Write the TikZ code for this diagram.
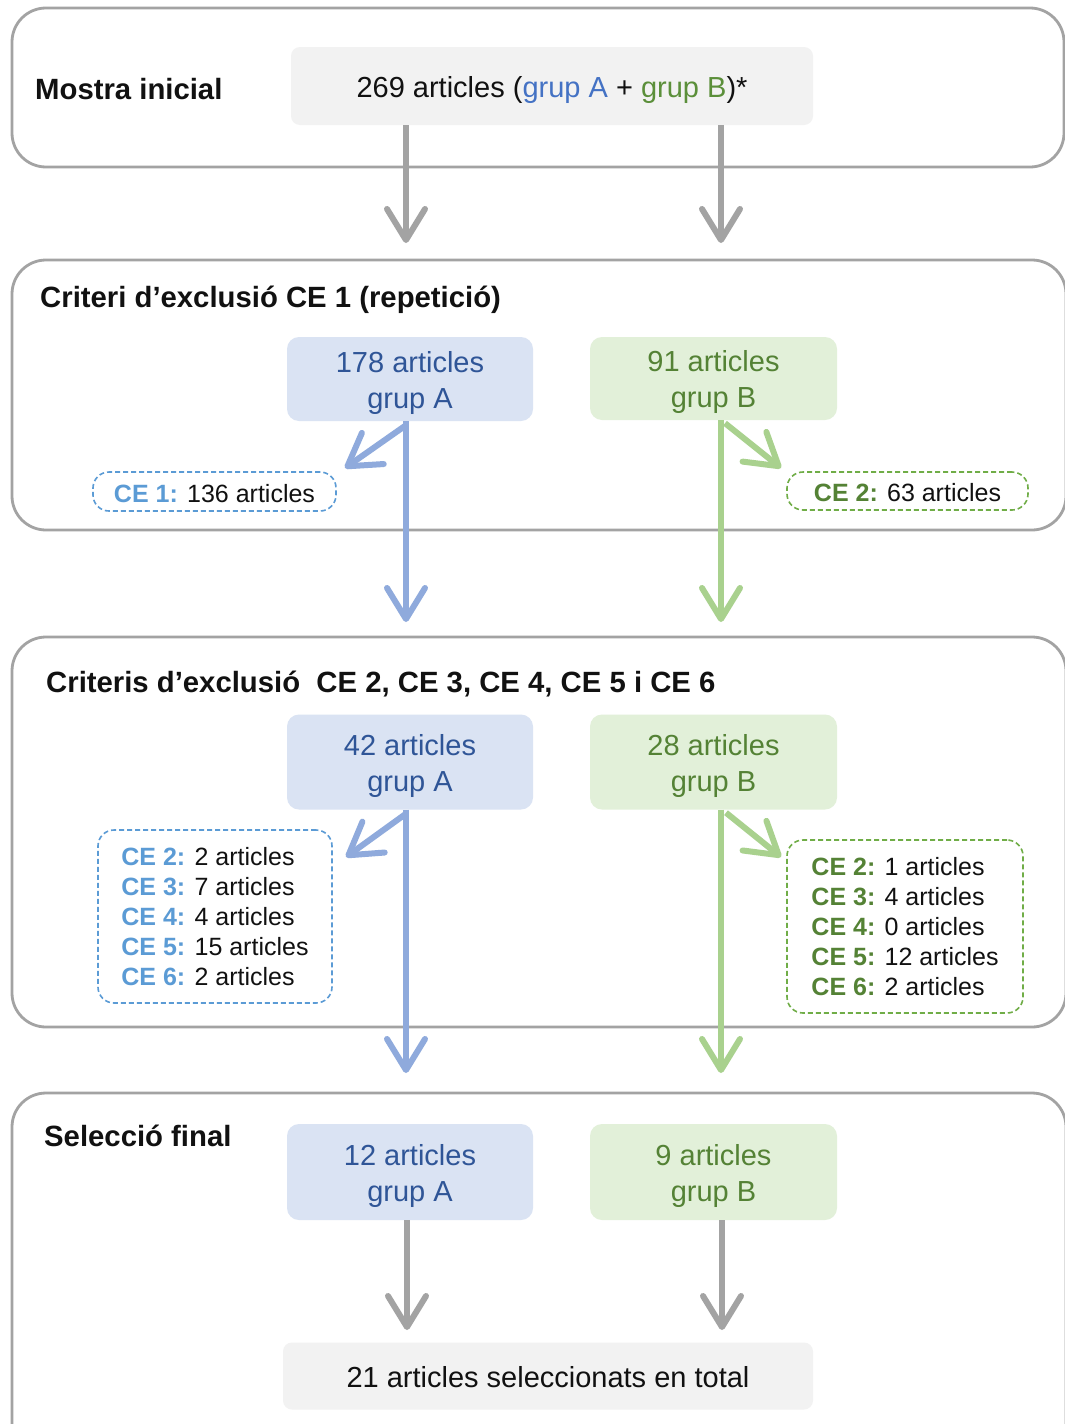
\documentclass[tikz,border=0pt]{standalone}
\usepackage{fontspec}
\setmainfont{Liberation Sans}
\usetikzlibrary{arrows.meta,calc}
\definecolor{pgray}{HTML}{A3A3A3}
\definecolor{lgray}{HTML}{F2F2F2}
\definecolor{bfill}{HTML}{DAE3F3}
\definecolor{btext}{HTML}{2F5597}
\definecolor{barrow}{HTML}{8FAADC}
\definecolor{blab}{HTML}{5B9BD5}
\definecolor{gfill}{HTML}{E2F0D9}
\definecolor{gtext}{HTML}{548235}
\definecolor{garrow}{HTML}{A9D18E}
\definecolor{glab}{HTML}{548235}
\definecolor{gdash}{HTML}{70AD47}
\definecolor{topA}{HTML}{4472C4}
\definecolor{topB}{HTML}{5B8F3A}
\definecolor{ink}{HTML}{111111}
\newcommand{\topstrut}{\rule{0pt}{29pt}}
\begin{document}
\begin{tikzpicture}[x=1pt,y=-1pt,
  panel/.style={draw=pgray, line width=2.8pt, rounded corners=34pt},
  title/.style={inner sep=0pt, font=\fontsize{29.3}{35}\selectfont\bfseries, text=ink},
  gbox/.style={fill=lgray, rounded corners=9pt, inner sep=0pt, minimum width=#1, minimum height=78pt, text height=29pt, text depth=6pt, font=\fontsize{29}{36}\selectfont, text=ink},
  abox/.style={fill=bfill, rounded corners=12pt, inner sep=0pt, minimum width=246pt, minimum height=#1, align=center, font=\fontsize{29}{36}\selectfont, text=btext},
  bbox/.style={fill=gfill, rounded corners=12pt, inner sep=0pt, minimum width=247pt, minimum height=#1, align=center, font=\fontsize{29}{36}\selectfont, text=gtext},
  adash/.style={draw=blab, line width=1.6pt, dash pattern=on 5pt off 3pt, rounded corners=16pt, inner sep=0pt, align=left, font=\fontsize{25}{30.2}\selectfont, text=ink},
  bdash/.style={draw=gdash, line width=1.6pt, dash pattern=on 5pt off 3pt, rounded corners=16pt, inner sep=0pt, align=left, font=\fontsize{25}{30.2}\selectfont, text=ink},
  arr/.style={line width=6pt, -{Straight Barb[round, length=31pt, width=38pt, line width=6pt]}},
  grayarr/.style={arr, draw=pgray},
  bluearr/.style={arr, draw=barrow},
  greenarr/.style={arr, draw=garrow}
]
\clip (0,0) rectangle (1065,1424);
\fill[white] (0,0) rectangle (1065,1424);

% panels
\draw[panel] (12,8) rectangle (1064,167);
\draw[panel] (12,260) rectangle (1066,530);
\draw[panel] (12,637) rectangle (1066,1027);
\draw[panel] (12,1093) rectangle (1066,1460);

% titles
\node[title, anchor=base west] (t1) at (35,99) {Mostra inicial};
\node[title, anchor=base west] (t2) at (40,307) {Criteri d’exclusió CE 1 (repetició)};
\node[title, anchor=base west] (t3) at (46,692) {Criteris d’exclusió \ CE 2, CE 3, CE 4, CE 5 i CE 6};
\node[title, anchor=base west] (t4) at (44,1146) {Selecció final};

% boxes
\node[gbox=522pt] (top) at (552,86) {269 articles (\textcolor{topA}{grup A} + \textcolor{topB}{grup B})*};
\node[abox=84pt] (a1) at (410,379) {\topstrut178 articles\\grup A};
\node[bbox=83pt] (b1) at (713.5,378.5) {\topstrut91 articles\\grup B};
\node[abox=95pt] (a2) at (410,762) {\topstrut42 articles\\grup A};
\node[bbox=95pt] (b2) at (713.5,762) {\topstrut28 articles\\grup B};
\node[abox=96pt] (a3) at (410,1172) {\topstrut12 articles\\grup A};
\node[bbox=96pt] (b3) at (713.5,1172) {\topstrut9 articles\\grup B};
\node[gbox=530pt, minimum height=67pt] (fin) at (548,1376) {21 articles seleccionats en total};

% dashed boxes
\node[adash, minimum width=243pt, minimum height=39pt, text height=21pt, text depth=0pt] (ce1) at (214.5,491.5) {\textcolor{blab}{\bfseries CE 1:} 136 articles};
\node[bdash, minimum width=241pt, minimum height=38pt, text height=21pt, text depth=0pt] (ce2) at (907.5,491) {\textcolor{glab}{\bfseries CE 2:} 63 articles};
\node[adash, minimum width=234pt, minimum height=173pt] (la) at (215,916.5) {%
\textcolor{blab}{\bfseries CE 2:} 2 articles\\
\textcolor{blab}{\bfseries CE 3:} 7 articles\\
\textcolor{blab}{\bfseries CE 4:} 4 articles\\
\textcolor{blab}{\bfseries CE 5:} 15 articles\\
\textcolor{blab}{\bfseries CE 6:} 2 articles};
\node[bdash, minimum width=236pt, minimum height=173pt] (lb) at (905,926.5) {%
\textcolor{glab}{\bfseries CE 2:} 1 articles\\
\textcolor{glab}{\bfseries CE 3:} 4 articles\\
\textcolor{glab}{\bfseries CE 4:} 0 articles\\
\textcolor{glab}{\bfseries CE 5:} 12 articles\\
\textcolor{glab}{\bfseries CE 6:} 2 articles};

% free arrow ends
\coordinate (e1) at (406,243);
\coordinate (e2) at (721,243);
\coordinate (e3) at (406,622);
\coordinate (e4) at (721,622);
\coordinate (e5) at (406,1073);
\coordinate (e6) at (721,1073);
\coordinate (e7) at (407,1330);
\coordinate (e8) at (722,1330);
\coordinate (d1) at (345,468);
\coordinate (d2) at (781,468);
\coordinate (d3) at (346,857);
\coordinate (d4) at (781,857);

% arrows
\draw[grayarr] (top.south -| e1) -- (e1);
\draw[grayarr] (top.south -| e2) -- (e2);
\draw[bluearr] (a1.south -| e3) -- (e3);
\draw[greenarr] (b1.south -| e4) -- (e4);
\draw[bluearr] ($(a1.south -| e3)+(0,4)$) -- (d1);
\draw[greenarr] ($(b1.south -| e4)+(4,3)$) -- (d2);
\draw[bluearr] (a2.south -| e5) -- (e5);
\draw[greenarr] (b2.south -| e6) -- (e6);
\draw[bluearr] ($(a2.south -| e5)+(0,4)$) -- (d3);
\draw[greenarr] ($(b2.south -| e6)+(5,3)$) -- (d4);
\draw[grayarr] (a3.south -| e7) -- (e7);
\draw[grayarr] (b3.south -| e8) -- (e8);
\end{tikzpicture}
\end{document}
